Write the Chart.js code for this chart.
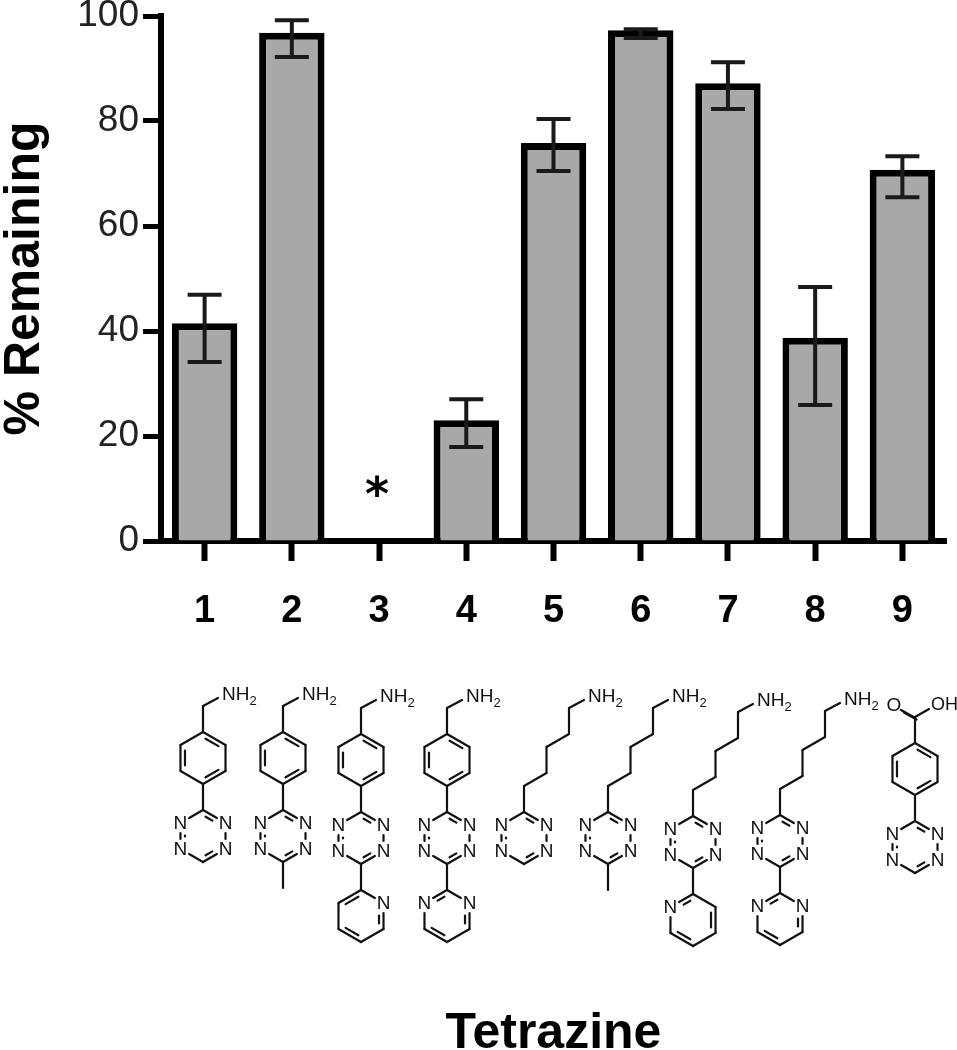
<!DOCTYPE html>
<html>
<head>
<meta charset="utf-8">
<title>Tetrazine stability</title>
<script src="https://cdn.jsdelivr.net/npm/chart.js@4"></script>
<style>
    html, body { margin: 0; padding: 0; background: #fff; }
    canvas { display: block; }
</style>
</head>
<body>
<canvas id="tetrazineChart" width="957" height="1050"></canvas>
<script>
// values
const categories = ['1', '2', '3', '4', '5', '6', '7', '8', '9'];
const remaining = [41.5, 96.8, 0, 23, 75.8, 97.3, 87.2, 38.7, 70.7];
const errorHigh = [46.9, 99.2, null, 27, 80.4, 97.5, 91.2, 48.4, 73.3];
const errorLow = [34.1, 92.2, null, 17.9, 70.5, 95.8, 82.3, 25.9, 65.5];
const yTicks = [0, 20, 40, 60, 80, 100];
const noSignalLabels = [null, null, '*', null, null, null, null, null, null];

const FONT = '"Liberation Sans", Arial, sans-serif';
const BOND = 26;

// Error bars, drawn through the chart's own scales
const errorBarPlugin = {
    id: 'errorBars',
    afterDatasetsDraw(chart) {
        const { ctx, scales: { x, y } } = chart;
        ctx.save();
        ctx.strokeStyle = '#1a1a1a';
        ctx.lineWidth = 4;
        categories.forEach((cat, i) => {
            if (errorHigh[i] === null) return;
            const px = x.getPixelForValue(i);
            const top = y.getPixelForValue(errorHigh[i]);
            const bottom = y.getPixelForValue(errorLow[i]);
            ctx.beginPath();
            ctx.moveTo(px, top);
            ctx.lineTo(px, bottom);
            ctx.moveTo(px - 17, top);
            ctx.lineTo(px + 17, top);
            ctx.moveTo(px - 17, bottom);
            ctx.lineTo(px + 17, bottom);
            ctx.stroke();
        });
        // asterisk over the bar that has no signal
        ctx.fillStyle = '#000';
        ctx.font = 'bold 46px "DejaVu Sans", sans-serif';
        ctx.textAlign = 'center';
        ctx.textBaseline = 'alphabetic';
        noSignalLabels.forEach((label, i) => {
            if (label) ctx.fillText(label, x.getPixelForValue(i) - 2, 510);
        });
        ctx.restore();
    }
};

// The chemical structures under the axis
const ringPoint = (cx, cy, i) => {
    const a = -Math.PI / 2 + i * Math.PI / 3;
    return [cx + BOND * Math.cos(a), cy + BOND * Math.sin(a)];
};

const trimmed = (p, q, cutP, cutQ) => {
    const dx = q[0] - p[0], dy = q[1] - p[1], len = Math.hypot(dx, dy);
    return [
        [p[0] + dx * cutP / len, p[1] + dy * cutP / len],
        [q[0] - dx * cutQ / len, q[1] - dy * cutQ / len]
    ];
};

const line = (ctx, p, q) => {
    ctx.beginPath();
    ctx.moveTo(p[0], p[1]);
    ctx.lineTo(q[0], q[1]);
    ctx.stroke();
};

const polyline = (ctx, pts) => {
    for (let i = 1; i < pts.length; i++) line(ctx, pts[i - 1], pts[i]);
};

const label = (ctx, text, x, y) => {
    ctx.font = '19px ' + FONT;
    ctx.textAlign = 'center';
    ctx.textBaseline = 'middle';
    ctx.fillText(text, x, y + 1);
};

const nh2 = (ctx, x, y) => {
    ctx.font = '19px ' + FONT;
    ctx.textAlign = 'left';
    ctx.textBaseline = 'middle';
    ctx.fillText('NH', x, y);
    const w = ctx.measureText('NH').width;
    ctx.font = '13px ' + FONT;
    ctx.fillText('2', x + w, y + 6);
};

// nitrogens: ring positions that carry an N; doubles: first vertex of each double bond
const drawRing = (ctx, cx, cy, nitrogens, doubles) => {
    for (let i = 0; i < 6; i++) {
        const j = (i + 1) % 6;
        const p = ringPoint(cx, cy, i), q = ringPoint(cx, cy, j);
        const cutP = nitrogens.includes(i) ? 10 : 0;
        const cutQ = nitrogens.includes(j) ? 10 : 0;
        const [a, b] = trimmed(p, q, cutP, cutQ);
        line(ctx, a, b);
        if (doubles.includes(i)) {
            const inP = [p[0] + (cx - p[0]) * 0.2, p[1] + (cy - p[1]) * 0.2];
            const inQ = [q[0] + (cx - q[0]) * 0.2, q[1] + (cy - q[1]) * 0.2];
            const [c, d] = trimmed(inP, inQ, Math.max(cutP, 3), Math.max(cutQ, 3));
            line(ctx, c, d);
        }
    }
    nitrogens.forEach(i => {
        const p = ringPoint(cx, cy, i);
        label(ctx, 'N', p[0], p[1]);
    });
};

const BENZENE_DOUBLES = [0, 2, 4];
const LOWER_DOUBLES = [1, 3, 5];
const TETRAZINE_N = [1, 2, 4, 5];

// x: ring axis, top: first carbon of tetrazine. arm and tail describe what hangs on it
const structures = [
    { x: 203, top: 810, arm: 'benzyl', tail: null },
    { x: 283, top: 810, arm: 'benzyl', tail: 'methyl' },
    { x: 361, top: 812, arm: 'benzyl', tail: [1] },
    { x: 447, top: 812, arm: 'benzyl', tail: [1, 5] },
    { x: 524, top: 812, arm: 'chain', tail: null },
    { x: 608, top: 812, arm: 'chain', tail: 'methyl' },
    { x: 693, top: 816, arm: 'chain', tail: [5] },
    { x: 780, top: 815, arm: 'chain', tail: [1, 5] },
    { x: 915, top: 821, arm: 'acid', tail: null }
];

const drawStructure = (ctx, s) => {
    const { x, top } = s;
    drawRing(ctx, x, top + BOND, TETRAZINE_N, BENZENE_DOUBLES);

    if (s.arm === 'benzyl' || s.arm === 'acid') {
        line(ctx, [x, top], [x, top - BOND]);
        const ringY = top - 2 * BOND;
        drawRing(ctx, x, ringY, [], BENZENE_DOUBLES);
        const head = [x, ringY - 2 * BOND];
        line(ctx, [x, ringY - BOND], head);
        if (s.arm === 'benzyl') {
            line(ctx, head, [x + 15, head[1] - 8]);
            nh2(ctx, x + 19, head[1] - 11);
        } else {
            line(ctx, [head[0] - 1.5, head[1]], [head[0] - 14, head[1] - 7]);
            line(ctx, [head[0] + 1.5, head[1] + 2.5], [head[0] - 11, head[1] - 4.5]);
            line(ctx, head, [head[0] + 14, head[1] - 8]);
            label(ctx, 'O', head[0] - 21, head[1] - 12);
            ctx.font = '18px ' + FONT;
            ctx.textAlign = 'left';
            ctx.fillText('OH', head[0] + 16, head[1] - 12);
        }
    } else {
        const pts = [
            [x, top],
            [x, top - BOND],
            [x + 22.5, top - 1.5 * BOND],
            [x + 22.5, top - 2.5 * BOND],
            [x + 45, top - 3 * BOND],
            [x + 45, top - 4 * BOND],
            [x + 60, top - 4 * BOND - 8]
        ];
        polyline(ctx, pts);
        nh2(ctx, x + 64, top - 4 * BOND - 11);
    }

    const bottom = top + 2 * BOND;
    if (s.tail === 'methyl') {
        line(ctx, [x, bottom], [x, bottom + BOND]);
    } else if (s.tail) {
        line(ctx, [x, bottom], [x, bottom + BOND]);
        drawRing(ctx, x, bottom + 2 * BOND, s.tail, LOWER_DOUBLES);
    }
};

const structurePlugin = {
    id: 'structures',
    afterDraw(chart) {
        const { ctx } = chart;
        ctx.save();
        ctx.strokeStyle = '#111';
        ctx.fillStyle = '#111';
        ctx.lineWidth = 2.2;
        ctx.lineCap = 'round';
        structures.forEach(s => drawStructure(ctx, s));
        ctx.restore();
    }
};

new Chart(document.getElementById('tetrazineChart'), {
    type: 'bar',
    data: {
        labels: categories,
        datasets: [{
            label: '% Remaining',
            data: remaining,
            backgroundColor: '#a8a8a8',
            borderColor: '#000',
            borderWidth: 7,
            categoryPercentage: 1,
            barPercentage: 0.75
        }]
    },
    options: {
        responsive: false,
        animation: false,
        layout: { padding: { top: 16, right: 11, bottom: 0, left: 0 } },
        plugins: { legend: { display: false }, tooltip: { enabled: false } },
        scales: {
            x: {
                afterFit: scale => { scale.height = 509; scale.paddingLeft = 0; scale.paddingRight = 0; },
                border: { display: true, color: '#000', width: 6 },
                grid: {
                    offset: false,
                    drawOnChartArea: false,
                    color: '#000',
                    tickColor: '#000',
                    tickLength: 20,
                    tickWidth: 6
                },
                ticks: {
                    color: '#000',
                    padding: 28,
                    maxRotation: 0,
                    font: { family: FONT, size: 38, weight: 'bold' }
                },
                title: {
                    display: true,
                    text: 'Tetrazine',
                    color: '#000',
                    padding: { top: 0, bottom: -9 },
                    font: { family: FONT, size: 50, weight: 'bold', lineHeight: 1 }
                }
            },
            y: {
                min: 0,
                max: 100,
                afterFit: scale => { scale.width = 161; scale.paddingTop = 0; scale.paddingBottom = 0; },
                afterBuildTicks: scale => { scale.ticks = yTicks.map(value => ({ value })); },
                border: { display: true, color: '#000', width: 6 },
                grid: {
                    drawOnChartArea: false,
                    color: '#000',
                    tickColor: '#000',
                    tickLength: 18,
                    tickWidth: 5
                },
                ticks: {
                    color: '#222',
                    padding: 4,
                    font: { family: FONT, size: 37 }
                },
                title: {
                    display: true,
                    text: '% Remaining',
                    color: '#000',
                    padding: 0,
                    font: { family: FONT, size: 50, weight: 'bold', lineHeight: 1 }
                }
            }
        }
    },
    plugins: [errorBarPlugin, structurePlugin]
});
</script>
</body>
</html>
